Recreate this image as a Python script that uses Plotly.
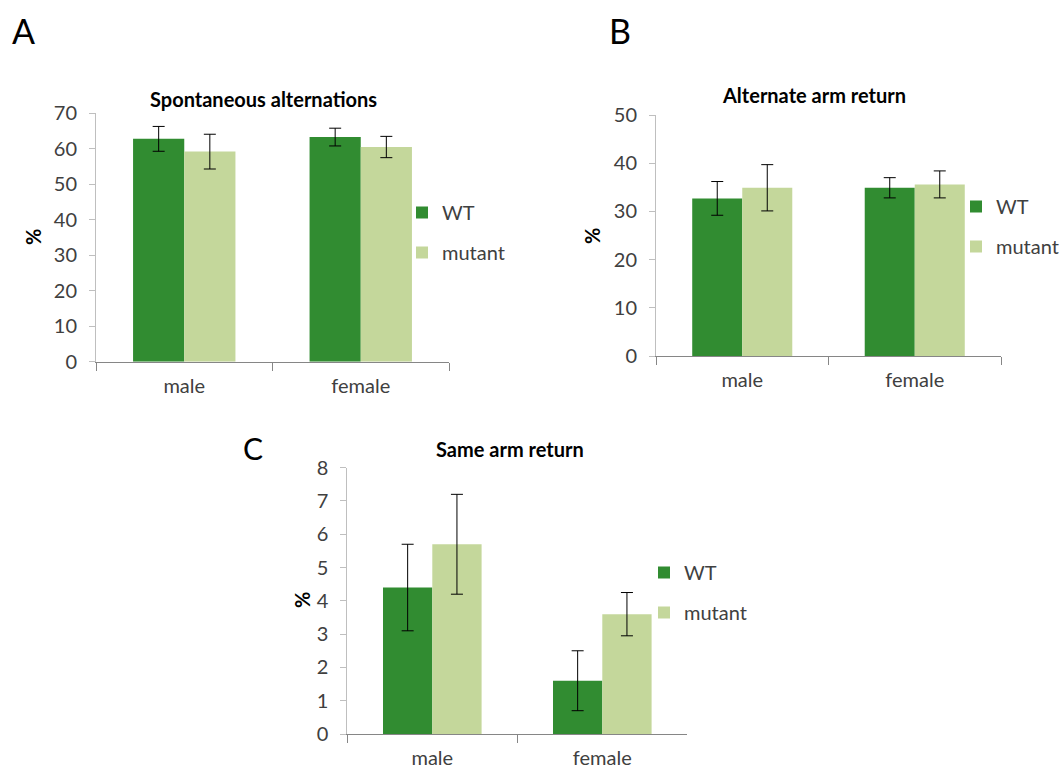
import plotly.graph_objects as go

# Y-maze results per sex, mean ± SEM
categories = ["male", "female"]

alt_wt = [62.8, 63.3]
alt_wt_err = [3.5, 2.5]
alt_mut = [59.2, 60.5]
alt_mut_err = [4.9, 3.0]

arm_wt = [32.7, 34.9]
arm_wt_err = [3.5, 2.1]
arm_mut = [34.9, 35.6]
arm_mut_err = [4.8, 2.8]

same_wt = [4.4, 1.6]
same_wt_err = [1.3, 0.9]
same_mut = [5.7, 3.6]
same_mut_err = [1.5, 0.65]

WT_COLOR = "#318C31"
MUT_COLOR = "#C4D79B"
TEXT = "#404040"
FONT = "Lato"

W, H = 1064, 771


def px_x(x):
    return x / W


def px_y(y):
    return 1 - y / H


fig = go.Figure()

panels = [
    # (xaxis id, yaxis id, legend id, wt, wt_err, mut, mut_err)
    ("x", "y", "legend", alt_wt, alt_wt_err, alt_mut, alt_mut_err),
    ("x2", "y2", "legend2", arm_wt, arm_wt_err, arm_mut, arm_mut_err),
    ("x3", "y3", "legend3", same_wt, same_wt_err, same_mut, same_mut_err),
]

for xa, ya, lg, wt, wt_err, mut, mut_err in panels:
    fig.add_trace(go.Bar(
        x=categories, y=wt, name="WT", xaxis=xa, yaxis=ya, legend=lg,
        legendgroup=lg + "wt", marker=dict(color=WT_COLOR, line=dict(width=0)),
        error_y=dict(type="data", array=wt_err, color="black", thickness=1, width=6),
    ))
    fig.add_trace(go.Bar(
        x=categories, y=mut, name="mutant", xaxis=xa, yaxis=ya, legend=lg,
        legendgroup=lg + "mut", marker=dict(color=MUT_COLOR, line=dict(width=0)),
        error_y=dict(type="data", array=mut_err, color="black", thickness=1, width=6),
    ))

xcommon = dict(
    type="category", showline=True, linecolor="#868686", linewidth=1,
    ticks="outside", tickson="boundaries", ticklen=8, tickcolor="#868686",
    showgrid=False, zeroline=False, tickfont=dict(family=FONT, size=20, color=TEXT),
    ticklabelstandoff=6, fixedrange=True, automargin=False,
)
ycommon = dict(
    showline=True, linecolor="#BFBFBF", linewidth=1, ticks="outside", ticklen=6,
    tickcolor="#BFBFBF", showgrid=False, zeroline=False,
    tickfont=dict(family=FONT, size=20, color=TEXT), ticklabelstandoff=8,
    automargin=False,
)

# panel geometry in pixels: (left, right, bottom(y=0), top(y=max))
geomA = (96, 449, 361.7, 113.3)
geomB = (656, 1001, 356, 115)
geomC = (347.3, 687.3, 734, 467.7)

fig.update_layout(
    width=W, height=H, margin=dict(l=0, r=0, t=0, b=0, autoexpand=False),
    paper_bgcolor="white", plot_bgcolor="white",
    barmode="group", bargap=0.42, bargroupgap=0,
    font=dict(family=FONT, color=TEXT),
    xaxis=dict(domain=[px_x(geomA[0]), px_x(geomA[1])], anchor="y", **xcommon),
    yaxis=dict(domain=[px_y(geomA[2]), px_y(geomA[3])], anchor="x", range=[0, 70], dtick=10, **ycommon),
    xaxis2=dict(domain=[px_x(geomB[0]), px_x(geomB[1])], anchor="y2", **xcommon),
    yaxis2=dict(domain=[px_y(geomB[2]), px_y(geomB[3])], anchor="x2", range=[0, 50], dtick=10, **ycommon),
    xaxis3=dict(domain=[px_x(geomC[0]), px_x(geomC[1])], anchor="y3", **xcommon),
    yaxis3=dict(domain=[px_y(geomC[2]), px_y(geomC[3])], anchor="x3", range=[0, 8], dtick=1, **ycommon),
)

legend_style = dict(
    xanchor="left", yanchor="top", bgcolor="rgba(0,0,0,0)",
    font=dict(family=FONT, size=20, color=TEXT), tracegroupgap=11,
    itemclick=False, itemdoubleclick=False,
)
fig.update_layout(
    legend=dict(x=px_x(402), y=px_y(193), **legend_style),
    legend2=dict(x=px_x(956), y=px_y(187), **legend_style),
    legend3=dict(x=px_x(644), y=px_y(553), **legend_style),
)

annotations = []
# panel titles
for text, cx, cy in [
    ("Spontaneous alternations", 263, 99),
    ("Alternate arm return", 814, 95),
    ("Same arm return", 510, 449),
]:
    annotations.append(dict(
        text="<b>" + text + "</b>", x=px_x(cx), y=px_y(cy), xref="paper", yref="paper",
        showarrow=False, xanchor="center", yanchor="middle",
        font=dict(family=FONT, size=20, color="black"),
    ))
# y axis titles
for cx, cy in [(33, 237), (592, 236), (302, 600)]:
    annotations.append(dict(
        text="<b>%</b>", x=px_x(cx), y=px_y(cy), xref="paper", yref="paper",
        showarrow=False, textangle=-90, xanchor="center", yanchor="middle",
        font=dict(family=FONT, size=20, color="black"),
    ))
# panel letters
for text, cx, cy, size in [("A", 23.5, 31, 34), ("B", 620, 31, 34), ("C", 253, 448, 30)]:
    annotations.append(dict(
        text=text, x=px_x(cx), y=px_y(cy), xref="paper", yref="paper",
        showarrow=False, xanchor="center", yanchor="middle",
        font=dict(family=FONT, size=size, color="black"),
    ))
fig.update_layout(annotations=annotations)

fig.write_html("out.html")
